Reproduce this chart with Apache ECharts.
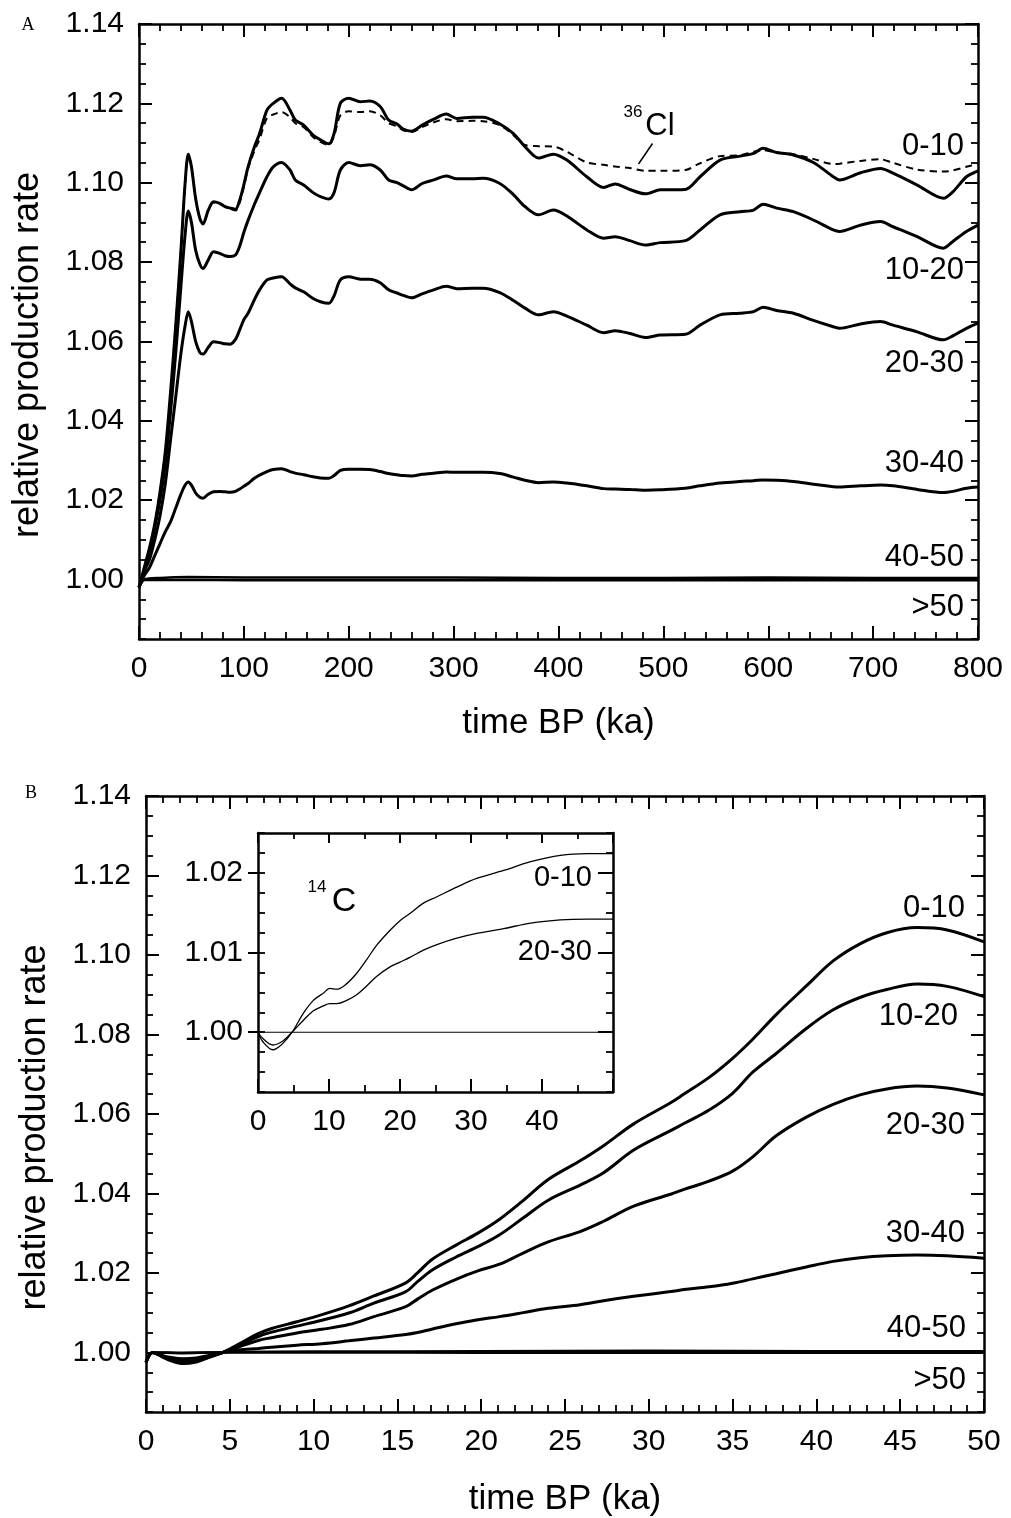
<!DOCTYPE html>
<html><head><meta charset="utf-8">
<script src="https://cdn.jsdelivr.net/npm/echarts@6/dist/echarts.min.js"></script>
<style>html,body{margin:0;padding:0;background:#fff}#c{width:1011px;height:1518px}</style>
</head><body><div id="c"></div>
<script>
// ---------------- Panel A (time BP, ka) ----------------
const aTime = [0,5,10,15,20,25,30,35,40,
  44,47,50,54,58,61,66,71,77,82,87,92,96,
  100,104,110,115,122,128,136,144,149,157,166,173,181,186,192,
  200,211,220,230,238,246,252,260,270,281,293,
  303,318,328,344,357,368,381,395,
  408,427,443,454,468,483,497,
  521,535,554,573,586,595,
  608,624,643,662,668,688,
  707,719,742,767,776,789,800];
const a0_10 = [0.998,1.003,1.008,1.014,1.022,1.032,1.047,1.064,1.083,
  1.100,1.1072,1.104,1.096,1.091,1.0896,1.093,1.0952,1.0948,1.0940,1.0936,1.0933,1.0956,
  1.0995,1.104,1.109,1.1124,1.1183,1.1200,1.1213,1.1183,1.1158,1.1145,1.1120,1.1108,1.1098,1.1124,1.1200,
  1.1213,1.1204,1.1206,1.1192,1.1158,1.1148,1.1135,1.1130,1.1145,1.1160,1.1173,
  1.1162,1.1165,1.1165,1.1148,1.1124,1.1091,1.1062,1.1072,
  1.1057,1.1015,1.0988,1.0997,1.0983,1.0972,1.0982,
  1.0983,1.1015,1.1057,1.1067,1.1074,1.1087,
  1.1076,1.1070,1.1051,1.1015,1.1007,1.1025,
  1.1036,1.1024,1.0994,1.0961,1.0977,1.1015,1.1030];
const aCl36 = [0.998,1.003,1.008,1.014,1.022,1.032,1.047,1.064,1.083,
  1.100,1.1072,1.104,1.096,1.091,1.0896,1.093,1.0950,1.0946,1.0940,1.0934,1.0930,1.0950,
  1.0990,1.1035,1.108,1.111,1.1163,1.1172,1.1178,1.1165,1.1150,1.1140,1.1115,1.1103,1.1095,1.1118,1.1170,
  1.1180,1.1178,1.1180,1.1170,1.1150,1.1142,1.1132,1.1128,1.1140,1.1152,1.1160,
  1.1155,1.1156,1.1155,1.1145,1.1120,1.1095,1.1092,1.1091,
  1.1078,1.1051,1.1045,1.1041,1.1037,1.1030,1.1030,
  1.1032,1.1049,1.1067,1.1069,1.1078,1.1082,
  1.1076,1.1072,1.1060,1.1047,1.1048,1.1055,
  1.1059,1.1050,1.1033,1.1028,1.1031,1.1040,1.1048];
const a10_20 = [0.998,1.002,1.007,1.013,1.020,1.029,1.042,1.057,1.074,
  1.087,1.0929,1.090,1.083,1.0795,1.0784,1.0805,1.0826,1.0822,1.0816,1.0814,1.0818,1.0840,
  1.0875,1.0905,1.0945,1.0975,1.1015,1.1040,1.1051,1.1032,1.1007,1.0994,1.0975,1.0965,1.0959,1.0975,1.1032,
  1.1051,1.1043,1.1045,1.1032,1.1007,1.1000,1.0992,1.0982,1.0998,1.1007,1.1017,
  1.1010,1.1010,1.1011,1.0998,1.0970,1.0940,1.0919,1.0931,
  1.0916,1.0881,1.0860,1.0864,1.0854,1.0843,1.0849,
  1.0854,1.0881,1.0919,1.0927,1.0931,1.0946,
  1.0936,1.0927,1.0906,1.0881,1.0877,1.0893,
  1.0902,1.0889,1.0864,1.0835,1.0852,1.0877,1.0893];
const a20_30 = [0.998,1.002,1.005,1.010,1.016,1.024,1.035,1.046,1.057,
  1.064,1.0675,1.065,1.060,1.0572,1.0568,1.0585,1.0599,1.0597,1.0594,1.0593,1.0605,1.0629,
  1.0655,1.0671,1.0705,1.0730,1.0755,1.0760,1.0763,1.0745,1.0735,1.0725,1.0708,1.0700,1.0696,1.0715,1.0755,
  1.0763,1.0757,1.0757,1.0748,1.0730,1.0722,1.0716,1.0710,1.0720,1.0730,1.0739,
  1.0733,1.0734,1.0734,1.0723,1.0703,1.0684,1.0667,1.0675,
  1.0664,1.0641,1.0622,1.0627,1.0620,1.0610,1.0616,
  1.0618,1.0641,1.0667,1.0671,1.0675,1.0686,
  1.0678,1.0671,1.0653,1.0637,1.0633,1.0644,
  1.0650,1.0641,1.0624,1.0604,1.0614,1.0633,1.0646];
const a30_40 = [0.998,1.001,1.003,1.006,1.009,1.012,1.0145,1.018,1.0215,
  1.0238,1.0246,1.0238,1.0218,1.0207,1.0205,1.0215,1.0221,1.0222,1.0221,1.0220,1.0222,1.0228,
  1.0235,1.0242,1.0255,1.0263,1.0272,1.0277,1.0279,1.0272,1.0268,1.0264,1.0259,1.0256,1.0255,1.0262,1.0275,
  1.0278,1.0278,1.0277,1.0272,1.0267,1.0264,1.0262,1.0261,1.0265,1.0268,1.0271,
  1.0270,1.0270,1.0270,1.0267,1.0258,1.0250,1.0244,1.0246,
  1.0243,1.0236,1.0229,1.0228,1.0227,1.0225,1.0226,
  1.0230,1.0236,1.0243,1.0247,1.0249,1.0251,
  1.0250,1.0247,1.0240,1.0234,1.0233,1.0236,
  1.0238,1.0236,1.0227,1.0219,1.0222,1.0230,1.0233];
const aFlatTime = [0,5,20,47,100,200,300,400,500,600,700,800];
const a40_50  = [0.998,1.000,1.0004,1.0006,1.0005,1.0005,1.0005,1.0004,1.0004,1.0005,1.0004,1.0004];
const aOver50 = [0.998,0.9999,0.9999,0.9999,0.9998,0.9998,0.9998,0.9998,0.9998,0.9998,0.9998,0.9998];
const aYTicks = [1.00,1.02,1.04,1.06,1.08,1.10,1.12,1.14];

// ---------------- Panel B (time BP, ka) ----------------
const bTime = [0,0.4,1,1.5,2.2,3,3.8,4.6,
  5.5,6.7,7.5,9,10.5,12.1,13.6,
  15.5,16.2,17.1,18.5,19.8,21.1,22.5,
  24,25.9,27.3,29.1,31.3,32.1,33.6,
  35,36.2,37.6,39.4,41,42.6,44.2,
  46,47.8,50];
const b0_10 = [0.9975,1.0000,0.9988,0.9979,0.9972,0.9976,0.9988,1.0000,
  1.0020,1.0047,1.0060,1.0077,1.0095,1.0117,1.0142,
  1.0175,1.0200,1.0235,1.0270,1.0300,1.0335,1.0382,
  1.0435,1.0482,1.0520,1.0575,1.0628,1.0650,1.0692,
  1.0740,1.0788,1.0850,1.0922,1.0985,1.1028,1.1056,
  1.1069,1.1063,1.1033];
const b10_20 = [0.9975,1.0000,0.9989,0.9981,0.9974,0.9978,0.9989,1.0000,
  1.0017,1.0040,1.0051,1.0066,1.0081,1.0099,1.0124,
  1.0153,1.0178,1.0208,1.0240,1.0266,1.0296,1.0338,
  1.0383,1.0421,1.0452,1.0509,1.0558,1.0576,1.0610,
  1.0652,1.0705,1.0752,1.0815,1.0862,1.0893,1.0913,
  1.0927,1.0921,1.0895];
const b20_30 = [0.9975,1.0000,0.9990,0.9983,0.9977,0.9980,0.9990,1.0000,
  1.0013,1.0030,1.0037,1.0049,1.0058,1.0070,1.0090,
  1.0115,1.0134,1.0157,1.0184,1.0205,1.0222,1.0250,
  1.0278,1.0304,1.0330,1.0368,1.0398,1.0410,1.0431,
  1.0456,1.0492,1.0545,1.0592,1.0624,1.0648,1.0663,
  1.0670,1.0665,1.0648];
const b30_40 = [0.9975,1.0000,0.9992,0.9987,0.9984,0.9986,0.9993,1.0000,
  1.0006,1.0010,1.0013,1.0018,1.0022,1.0029,1.0036,
  1.0045,1.0050,1.0059,1.0072,1.0082,1.0090,1.0100,
  1.0111,1.0120,1.0130,1.0141,1.0153,1.0158,1.0165,
  1.0174,1.0185,1.0198,1.0215,1.0229,1.0238,1.0243,
  1.0245,1.0243,1.0237];
const bFlatTime = [0,0.4,2.2,5,10,20,30,40,50];
const b40_50  = [0.9975,1.0,0.9998,1.0001,1.0002,1.0003,1.0004,1.0003,1.0003];
const bOver50 = [0.9975,1.0,0.9999,1.0,1.0,0.9999,0.9999,0.9999,0.9999];
const bYTicks = [1.00,1.02,1.04,1.06,1.08,1.10,1.12,1.14];

// ---------------- Inset (14C) ----------------
const cTime = [0,0.7,2.1,3.5,4.8,6.4,7.8,9.2,10.1,11.1,12.5,13.9,15.3,16.7,18.6,20,21.4,23.3,25.2,28,30.8,34.6,38.4,42.6,46.4,50];
const c0_10  = [1.0,0.9988,0.9978,0.9986,1.0,1.0024,1.0040,1.0049,1.0055,1.0054,1.0061,1.0074,1.0091,1.0109,1.0128,1.0140,1.0149,1.0162,1.0170,1.0182,1.0193,1.0203,1.0214,1.0222,1.0224,1.0224];
const c20_30 = [1.0,0.9992,0.9984,0.9989,1.0,1.0015,1.0027,1.0033,1.0036,1.0036,1.0040,1.0047,1.0058,1.0070,1.0082,1.0088,1.0094,1.0103,1.0110,1.0118,1.0124,1.0130,1.0137,1.0141,1.0142,1.0142];
const cRefTime = [0,50];
const cRef = [1,1];
const cYTicks = [1.00,1.01,1.02];

// ---------------- helpers ----------------
const FONT = '"Liberation Sans", Arial, Helvetica, sans-serif';
const zip = (xs, ys) => xs.map((x, i) => [x, ys[i]]);

function xAx(gi, pos, min, max, interval, split, majLen, minLen, showLabel, fmt, name, nameGap) {
  const o = {
    type: 'value', gridIndex: gi, position: pos, min, max, interval,
    axisLine: {show: true, onZero: false, lineStyle: {color: '#000', width: 2.5}},
    axisTick: {show: true, inside: true, length: majLen, lineStyle: {color: '#000', width: 2}},
    minorTick: {show: true, splitNumber: split, length: minLen, lineStyle: {color: '#000', width: 1.8}},
    splitLine: {show: false}, minorSplitLine: {show: false},
    axisLabel: {show: showLabel, color: '#000', fontSize: 30, fontFamily: FONT, margin: 15, formatter: fmt}
  };
  if (name) {
    o.name = name; o.nameLocation = 'middle'; o.nameGap = nameGap;
    o.nameTextStyle = {fontSize: 35, fontFamily: FONT, color: '#000'};
  }
  return o;
}
function yMajor(gi, pos, min, max, ticks, len, inside, showLabel, name, nameGap) {
  const o = {
    type: 'value', gridIndex: gi, position: pos, min, max,
    axisLine: {show: true, onZero: false, lineStyle: {color: '#000', width: 2.5}},
    axisTick: {show: true, inside, length: len, customValues: ticks, lineStyle: {color: '#000', width: 2}},
    axisLabel: {show: showLabel, customValues: ticks, color: '#000', fontSize: 30, fontFamily: FONT, margin: 15,
      formatter: v => Number(v).toFixed(2)},
    splitLine: {show: false}
  };
  if (name) {
    o.name = name; o.nameLocation = 'middle'; o.nameGap = nameGap;
    o.nameTextStyle = {fontSize: 36, fontFamily: FONT, color: '#000', padding: [0, 47, 0, 0]};
  }
  return o;
}
function yMinor(gi, pos, min, max, interval, len) {
  return {
    type: 'value', gridIndex: gi, position: pos, min, max, interval,
    axisLine: {show: false, onZero: false},
    axisTick: {show: true, inside: true, length: len, lineStyle: {color: '#000', width: 1.8}},
    axisLabel: {show: false}, splitLine: {show: false}
  };
}

const xAxis = [
  xAx(0, 'bottom', 0, 800, 100, 5, 13, 7, true, v => v, 'time BP (ka)', 67),
  xAx(0, 'top', 0, 800, 100, 5, 13, 7, false),
  xAx(1, 'bottom', 0, 50, 5, 5, 13, 7, true, v => v, 'time BP (ka)', 70),
  xAx(1, 'top', 0, 50, 5, 5, 13, 7, false),
  xAx(2, 'bottom', 0, 50, 10, 2, 13, 7, true, v => (v === 50 ? '' : v)),
  xAx(2, 'top', 0, 50, 10, 2, 10, 6, false)
];
const yAxis = [
  yMajor(0, 'left', 0.985, 1.14, aYTicks, 13, true, true, 'relative production rate', 93),
  yMinor(0, 'left', 0.985, 1.14, 0.005, 7),
  yMajor(0, 'right', 0.985, 1.14, aYTicks, 13, true, false),
  yMinor(0, 'right', 0.985, 1.14, 0.005, 7),
  yMajor(1, 'left', 0.985, 1.14, bYTicks, 13, true, true, 'relative production rate', 93),
  yMinor(1, 'left', 0.985, 1.14, 0.005, 7),
  yMajor(1, 'right', 0.985, 1.14, bYTicks, 13, true, false),
  yMinor(1, 'right', 0.985, 1.14, 0.005, 7),
  yMajor(2, 'left', 0.9925, 1.025, cYTicks, 10, false, true),
  yMinor(2, 'left', 0.9925, 1.025, 0.0025, 7),
  yMajor(2, 'right', 0.9925, 1.025, cYTicks, 15, true, false),
  yMinor(2, 'right', 0.9925, 1.025, 0.0025, 7)
];

function line(name, xs, ys, xi, yi, width, dashed, smooth) {
  return {
    type: 'line', name, data: zip(xs, ys), xAxisIndex: xi, yAxisIndex: yi,
    showSymbol: false, symbol: 'none', smooth: smooth == null ? 0.3 : smooth, clip: true,
    lineStyle: {color: '#000', width, type: dashed ? [7, 5] : 'solid'},
    emphasis: {disabled: true}, silent: true
  };
}

const series = [
  line('A 36Cl', aTime, aCl36, 0, 0, 2, true),
  line('A 0-10', aTime, a0_10, 0, 0, 3),
  line('A 10-20', aTime, a10_20, 0, 0, 3),
  line('A 20-30', aTime, a20_30, 0, 0, 3),
  line('A 30-40', aTime, a30_40, 0, 0, 3),
  line('A 40-50', aFlatTime, a40_50, 0, 0, 2.5),
  line('A >50', aFlatTime, aOver50, 0, 0, 2.5),
  line('B 0-10', bTime, b0_10, 2, 4, 3, false, 0.35),
  line('B 10-20', bTime, b10_20, 2, 4, 3, false, 0.35),
  line('B 20-30', bTime, b20_30, 2, 4, 3, false, 0.35),
  line('B 30-40', bTime, b30_40, 2, 4, 3, false, 0.35),
  line('B 40-50', bFlatTime, b40_50, 2, 4, 2.5),
  line('B >50', bFlatTime, bOver50, 2, 4, 2.5),
  line('14C ref', cRefTime, cRef, 4, 8, 1.2),
  line('14C 0-10', cTime, c0_10, 4, 8, 1.3, false, 0.35),
  line('14C 20-30', cTime, c20_30, 4, 8, 1.3, false, 0.35)
];

function txt(text, x, y, size, align, family) {
  return {type: 'text', x, y, silent: true, z: 100,
    style: {text, x: 0, y: 0, fill: '#000', fontSize: size, fontFamily: family || FONT,
      align: align || 'right', textAlign: align || 'right', verticalAlign: 'middle', textVerticalAlign: 'middle'}};
}

const graphic = [
  txt('A', 28, 25, 18, 'center', '"Liberation Serif", "Times New Roman", serif'),
  txt('B', 31, 793, 18, 'center', '"Liberation Serif", "Times New Roman", serif'),
  txt('0-10', 964, 146, 31), txt('10-20', 964, 270, 31), txt('20-30', 964, 363, 31),
  txt('30-40', 964, 463, 31), txt('40-50', 964, 557, 31), txt('>50', 964, 607, 31),
  txt('36', 633, 112, 17, 'center'), txt('Cl', 660, 126, 31, 'center'),
  {type: 'line', silent: true, z: 100, shape: {x1: 652.5, y1: 143.5, x2: 638.5, y2: 164},
    style: {stroke: '#000', lineWidth: 1.5}},
  txt('0-10', 965, 908, 31), txt('10-20', 958, 1016, 31), txt('20-30', 965, 1125, 31),
  txt('30-40', 965, 1233, 31), txt('40-50', 966, 1328, 31), txt('>50', 966, 1380, 31),
  txt('0-10', 592, 878, 29), txt('20-30', 592, 952, 29),
  txt('14', 317, 887, 17, 'center'), txt('C', 344, 902, 34, 'center')
];

const chart = echarts.init(document.getElementById('c'), null, {renderer: 'canvas'});
chart.setOption({
  animation: false,
  backgroundColor: '#fff',
  textStyle: {fontFamily: FONT},
  grid: [
    {left: 139, top: 24, width: 839, height: 615, containLabel: false, outerBoundsMode: 'none'},
    {left: 146, top: 796, width: 838, height: 616, containLabel: false, outerBoundsMode: 'none'},
    {left: 258, top: 833, width: 355, height: 259, containLabel: false, outerBoundsMode: 'none',
      show: true, backgroundColor: '#fff', borderWidth: 0}
  ],
  xAxis, yAxis, series, graphic
});
</script>
</body></html>
